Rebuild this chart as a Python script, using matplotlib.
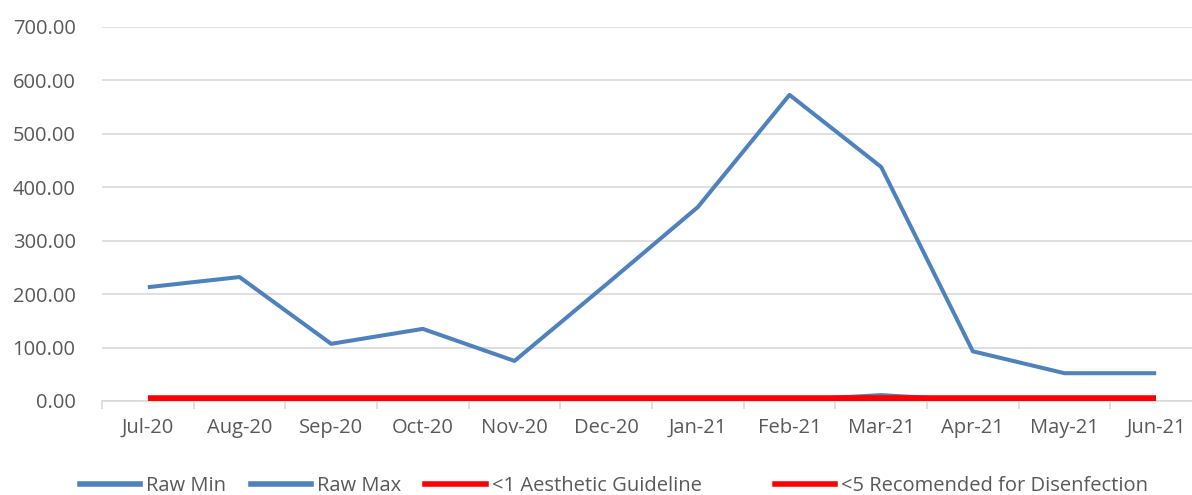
import numpy as np
import matplotlib.pyplot as plt
from matplotlib.lines import Line2D

plt.rcParams["font.family"] = ["Open Sans", "DejaVu Sans"]

# Monthly readings
months = ["Jul-20", "Aug-20", "Sep-20", "Oct-20", "Nov-20", "Dec-20",
          "Jan-21", "Feb-21", "Mar-21", "Apr-21", "May-21", "Jun-21"]
raw_min = [0.5, 0.5, 0.3, 0.4, 0.3, 0.5, 0.8, 1.5, 11.0, 1.0, 0.5, 0.5]
raw_max = [213, 232, 107, 135, 75, 218, 363, 573, 438, 93, 52, 52]
aesthetic_limit = [1] * 12
disinfection_limit = [5] * 12

blue = "#4F81BD"
red = "#FF0000"
text_gray = "#595959"
grid_gray = "#D9D9D9"

fig = plt.figure(figsize=(11.92, 4.95), dpi=100)
ax = fig.add_axes([102 / 1192, 94 / 495, 1100 / 1192, 374 / 495])

x = np.arange(len(months))
ax.plot(x, raw_min, color=blue, lw=2.9, solid_capstyle="butt", zorder=3)
ax.plot(x, raw_max, color=blue, lw=2.9, solid_capstyle="butt", zorder=3)
ax.plot(x, aesthetic_limit, color=red, lw=4, solid_capstyle="butt", zorder=4)
ax.plot(x, disinfection_limit, color=red, lw=4, solid_capstyle="butt", zorder=4)

ax.set_xlim(-0.5, len(months) - 0.5)
ax.set_ylim(0, 700)
ax.set_yticks(np.arange(0, 701, 100))
ax.set_yticklabels([f"{v:.2f}" for v in np.arange(0, 701, 100)])
ax.yaxis.grid(True, color=grid_gray, lw=1.2)
ax.set_axisbelow(True)

# category boundaries get tick marks, labels sit between them
ax.set_xticks(np.arange(-0.5, len(months), 1))
ax.set_xticklabels([])
ax.set_xticks(x, minor=True)
ax.set_xticklabels(months, minor=True)
ax.tick_params(axis="x", which="major", length=6, width=1.2, color=grid_gray, direction="out")
ax.tick_params(axis="x", which="minor", length=0, pad=12, labelsize=14.5, labelcolor=text_gray)
ax.tick_params(axis="y", length=0, pad=19, labelsize=14.5, labelcolor=text_gray)

for side in ["top", "right", "left"]:
    ax.spines[side].set_visible(False)
ax.spines["bottom"].set_color(grid_gray)
ax.spines["bottom"].set_linewidth(1.2)

legend_kw = dict(frameon=False, fontsize=14.5, labelcolor=text_gray, handlelength=3.0,
                 handletextpad=0.3, loc="center left", borderaxespad=0, borderpad=0)
h1 = [Line2D([], [], color=blue, lw=4), Line2D([], [], color=blue, lw=4),
      Line2D([], [], color=red, lw=4)]
fig.legend(h1, ["Raw Min", "Raw Max", "<1 Aesthetic Guideline"], ncol=3,
           columnspacing=1.2, bbox_to_anchor=(80 / 1192, 1 - 486 / 495), **legend_kw)
fig.legend([Line2D([], [], color=red, lw=4)], ["<5 Recomended for Disenfection"],
           bbox_to_anchor=(775 / 1192, 1 - 486 / 495), **legend_kw)

fig.savefig("out.png", dpi=100)
